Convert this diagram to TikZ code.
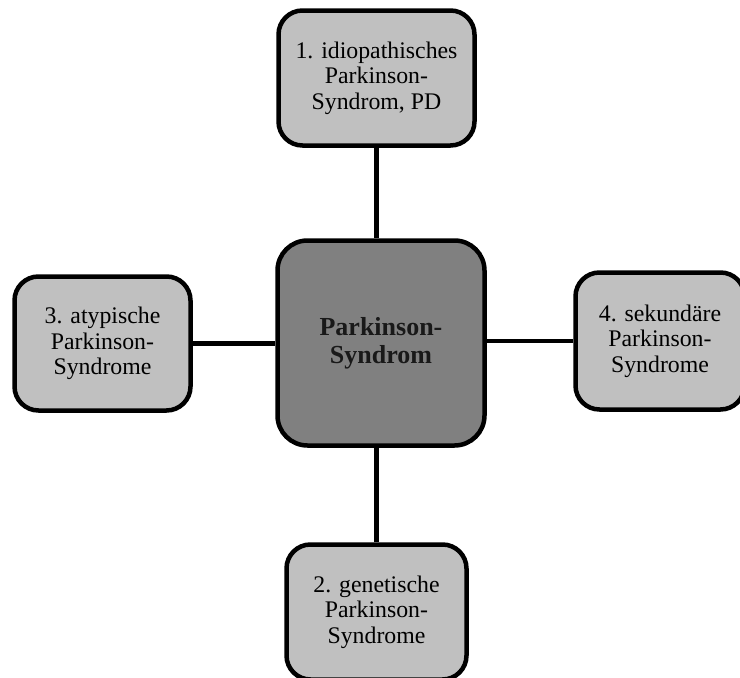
\documentclass[tikz,border=0pt]{standalone}
\usepackage{fontspec}
\setmainfont{Liberation Serif}
\definecolor{hubgray}{HTML}{808080}
\definecolor{leafgray}{HTML}{C0C0C0}
\begin{document}
\begin{tikzpicture}[x=1pt,y=-1pt,
  box/.style={draw=black, line width=4.5pt, inner sep=0pt, align=center},
  leaf/.style={box, fill=leafgray, rounded corners=24pt,
    font=\fontsize{23.8}{25.5}\selectfont},
  hub/.style={box, fill=hubgray, rounded corners=30pt,
    font=\fontsize{26}{28}\selectfont\bfseries, text=black!90},
  link/.style={draw=black, line width=4.5pt}]
\clip (0,0) rectangle (740,678);

\node[hub, minimum width=207pt, minimum height=205pt] (ctr) at (381,343)
  {Parkinson-\\Syndrom};
\node[leaf, minimum width=196pt, minimum height=135pt] (top) at (376.5,78)
  {1. idiopathisches\\Parkinson-\\Syndrom, PD};
\node[leaf, minimum width=180pt, minimum height=135pt] (bot) at (376.5,612)
  {2. genetische\\Parkinson-\\Syndrome};
\node[leaf, minimum width=176pt, minimum height=134pt] (lft) at (102.5,343.5)
  {3. atypische\\Parkinson-\\Syndrome};
\node[leaf, minimum width=169pt, minimum height=137pt] (rgt) at (660,341)
  {4. sekundäre\\Parkinson-\\Syndrome};

\path[link] (top.south) -- (top.south |- ctr.north);
\path[link] (bot.north) -- (bot.north |- ctr.south);
\path[link] (lft.east) -- (lft.east -| ctr.west);
\path[link] (rgt.west) -- (rgt.west -| ctr.east);
\end{tikzpicture}
\end{document}
